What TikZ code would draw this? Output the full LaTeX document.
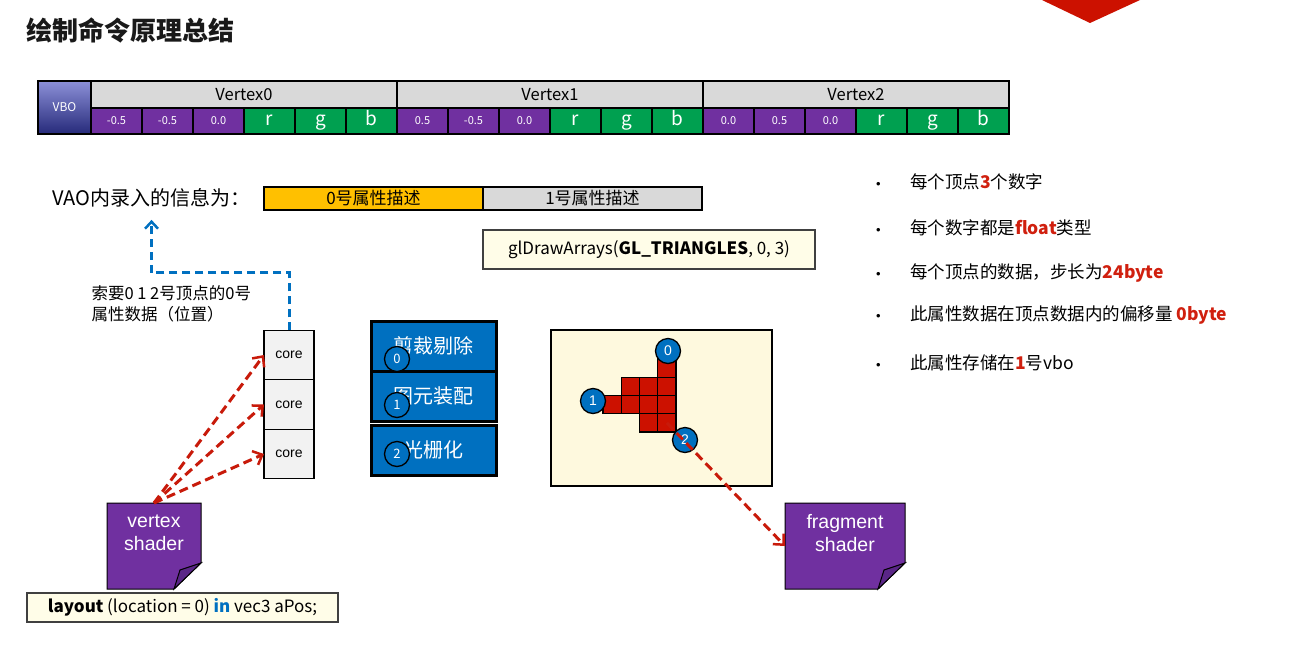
\documentclass[tikz,border=0pt]{standalone}
\usepackage{fontspec}
\setmainfont{Noto Sans CJK SC}
\newfontfamily\arialfont{Liberation Sans}
\usetikzlibrary{arrows.meta,positioning,calc}

\definecolor{vbodark}{HTML}{262A7A}
\definecolor{vbolight}{HTML}{8C90D8}
\definecolor{attrpurple}{HTML}{7030A0}
\definecolor{folddark}{HTML}{5A2687}
\definecolor{attrgreen}{HTML}{00A050}
\definecolor{headgray}{HTML}{D9D9D9}
\definecolor{coregray}{HTML}{F2F2F2}
\definecolor{pipeblue}{HTML}{0070C0}
\definecolor{pixelred}{HTML}{CC1100}
\definecolor{arrowred}{HTML}{C81A0A}
\definecolor{codecream}{HTML}{FFFDE8}
\definecolor{panelcream}{HTML}{FEF9DE}
\definecolor{attrorange}{HTML}{FFC000}
\definecolor{factred}{HTML}{D0200F}

\newcommand{\redbf}[1]{\textcolor{factred}{\textbf{#1}}}
\newcommand{\factdot}{\makebox[34pt][l]{\arialfont\fontsize{13}{13}\selectfont •}}

\tikzset{
  vbocell/.style={draw=black, line width=1.6pt, top color=vbolight, bottom color=vbodark,
    minimum width=53pt, minimum height=53pt, inner sep=0pt, outer sep=0pt,
    text=white, font=\fontsize{12}{14}\selectfont},
  headcell/.style={draw=black, line width=1.6pt, fill=headgray, minimum width=306pt,
    minimum height=27pt, inner sep=0pt, outer sep=0pt, font=\fontsize{16.5}{18}\selectfont},
  numcell/.style={draw=black, line width=1.6pt, fill=attrpurple, minimum width=51pt,
    minimum height=26pt, inner sep=0pt, outer sep=0pt, text=white, font=\fontsize{11}{13}\selectfont},
  chancell/.style={numcell, fill=attrgreen, text height=13pt, text depth=4pt, font=\fontsize{19}{21}\selectfont},
  attrbox/.style={draw=black, line width=2.4pt, minimum width=219pt, minimum height=23pt,
    inner sep=0pt, outer sep=0pt, font=\fontsize{17}{19}\selectfont},
  codebox/.style={draw=black!75, line width=1.1pt, fill=codecream, inner sep=0pt,
    font=\fontsize{17}{19}\selectfont},
  corebox/.style={draw=black, line width=1.4pt, fill=coregray, minimum width=50pt,
    minimum height=49.5pt, inner sep=0pt, outer sep=0pt, font=\arialfont\fontsize{14}{16}\selectfont},
  pipebox/.style={draw=black, line width=3pt, fill=pipeblue, minimum width=125pt,
    minimum height=50pt, inner sep=0pt, outer sep=0pt, text=white, font=\fontsize{20}{22}\selectfont},
  stepnum/.style={circle, draw=black, line width=1.3pt, fill=pipeblue, minimum size=25pt,
    inner sep=0pt, text=white, font=\fontsize{13}{14}\selectfont},
  pixel/.style={draw=black, line width=1.2pt, fill=pixelred, minimum size=18.25pt, inner sep=0pt},
  vtx/.style={stepnum, fill=pipeblue, font=\arialfont\fontsize{14}{15}\selectfont},
  paper/.style={minimum width=#1, minimum height=86pt, inner sep=0pt, outer sep=0pt},
  papertext/.style={align=center, text=white, font=\arialfont\fontsize{19.5}{23}\selectfont},
  fact/.style={anchor=west, inner sep=2pt, font=\fontsize{17.5}{20}\selectfont},
  reddash/.style={draw=arrowred, line width=3pt, dash pattern=on 9pt off 5pt,
    -{Straight Barb[length=8pt, width=15pt, line width=2.5pt]}},
  bluedash/.style={draw=pipeblue, line width=3pt, dash pattern=on 8pt off 5pt,
    -{Straight Barb[length=7pt, width=13pt, line width=2.5pt]}}
}

\begin{document}
\begin{tikzpicture}[x=1pt, y=-1pt]
  \useasboundingbox[fill=white] (0,0) rectangle (1304,662);
  % title and the red tab at the top edge
  \node[anchor=west, font=\fontsize{26}{30}\selectfont\bfseries, text=black!90] (title) at (23,30) {绘制命令原理总结};
  \fill[pixelred] (1042,0) -- (1140,0) -- (1090,23) -- cycle;

  % VBO memory layout
  \node[vbocell] (vbo) at (64.5,107.5) {VBO};
  \foreach \v in {0,1,2}
    \node[headcell] (vx\v) at ({244+306*\v},94.5) {Vertex\v};
  \foreach \val [count=\i from 0] in {-0.5,-0.5,0.0,r,g,b,0.5,-0.5,0.0,r,g,b,0.0,0.5,0.0,r,g,b} {
    \pgfmathtruncatemacro{\k}{mod(\i,6)}
    \ifnum\k<3
      \node[numcell] (val\i) at ({116.5+51*\i},121) {\val};
    \else
      \node[chancell] (val\i) at ({116.5+51*\i},121) {\val};
    \fi
  }
  \draw[line width=2.4pt] (vbo.north west) rectangle (val17.south east);

  % VAO attribute slots
  \node[anchor=west, font=\fontsize{20}{23}\selectfont] (vao) at (49,198) {VAO内录入的信息为：};
  \node[attrbox, fill=attrorange] (attr0) at (373.5,198.5) {0号属性描述};
  \node[attrbox, fill=headgray, right=0pt of attr0] (attr1) {1号属性描述};

  % draw call
  \node[codebox, minimum width=332pt, minimum height=39pt] (drawcall) at (649,249.5) {glDrawArrays(\textbf{GL\_TRIANGLES}, 0, 3)};

  % vertex shader cores
  \node[corebox] (core0) at (289,355) {core};
  \node[corebox, below=0pt of core0] (core1) {core};
  \node[corebox, below=0pt of core1] (core2) {core};
  \node[anchor=west, align=left, font=\fontsize{16.5}{21}\selectfont] (ask) at (88,304) {索要0 1 2号顶点的0号\\属性数据（位置）};
  \draw[bluedash, shorten >=9pt] (core0.north) |- ($(vao.south)+(0,62)$) -- (vao.south);

  % vertex shader note
  \node[paper=94pt] (vs) at (154,546) {};
  \filldraw[fill=attrpurple, draw=black, line width=1pt] (vs.north west) -- (vs.north east) -- ($(vs.south east)+(0,-26)$) -- ($(vs.south east)+(-27,0)$) -- (vs.south west) -- cycle;
  \filldraw[fill=folddark, draw=black, line width=1pt] ($(vs.south east)+(0,-26)$) -- ($(vs.south east)+(-21,-19)$) -- ($(vs.south east)+(-27,0)$) -- cycle;
  \node[papertext] (vslabel) at ($(vs.center)+(0,-13)$) {vertex\\shader};
  \foreach \c in {0,1,2}
    \draw[reddash] (vs.north) -- (core\c.west);
  \node[codebox, minimum width=311pt, minimum height=29pt] (layout) at (182.5,607.5) {\textbf{layout} (location = 0) \textcolor{pipeblue}{\textbf{in}} vec3 aPos;};

  % pipeline stages
  \node[pipebox] (clip) at (433.5,346) {剪裁剔除};
  \node[pipebox, below=0pt of clip] (assemble) {图元装配};
  \node[pipebox] (raster) at (433.5,450) {光栅化};
  \node[stepnum] (n0) at (397,359) {0};
  \node[stepnum] (n1) at (397,405) {1};
  \node[stepnum] (n2) at (397,454) {2};

  % rasterised triangle
  \node[draw=black, line width=1.3pt, fill=panelcream, minimum width=221pt, minimum height=156pt, inner sep=0pt] (panel) at (661.5,408) {};
  \foreach \c/\r in {3/0,1/1,2/1,3/1,0/2,1/2,2/2,3/2,2/3,3/3}
    \node[pixel] (px\c\r) at ({603+18.25*(\c+0.5)},{359+18.25*(\r+0.5)}) {};
  \node[vtx] (v0) at (668,351) {0};
  \node[vtx] (v1) at (593,401) {1};
  \node[vtx] (v2) at (685,440) {2};

  % fragment shader note
  \node[paper=120pt] (fs) at (845,546) {};
  \filldraw[fill=attrpurple, draw=black, line width=1pt] (fs.north west) -- (fs.north east) -- ($(fs.south east)+(0,-26)$) -- ($(fs.south east)+(-27,0)$) -- (fs.south west) -- cycle;
  \filldraw[fill=folddark, draw=black, line width=1pt] ($(fs.south east)+(0,-26)$) -- ($(fs.south east)+(-21,-19)$) -- ($(fs.south east)+(-27,0)$) -- cycle;
  \node[papertext] (fslabel) at ($(fs.center)+(0,-13)$) {fragment\\shader};
  \draw[reddash] (px33.center) -- (fs.west);

  % notes on attribute 0
  \node[fact] (fact0) at (874,182) {\factdot 每个顶点\redbf{3}个数字};
  \node[fact] (fact1) at (874,228) {\factdot 每个数字都是\redbf{float}类型};
  \node[fact] (fact2) at (874,273) {\factdot 每个顶点的数据，步长为\redbf{24byte}};
  \node[fact] (fact3) at (874,315) {\factdot 此属性数据在顶点数据内的偏移量 \redbf{0byte}};
  \node[fact] (fact4) at (874,363) {\factdot 此属性存储在\redbf{1}号vbo};
\end{tikzpicture}
\end{document}
